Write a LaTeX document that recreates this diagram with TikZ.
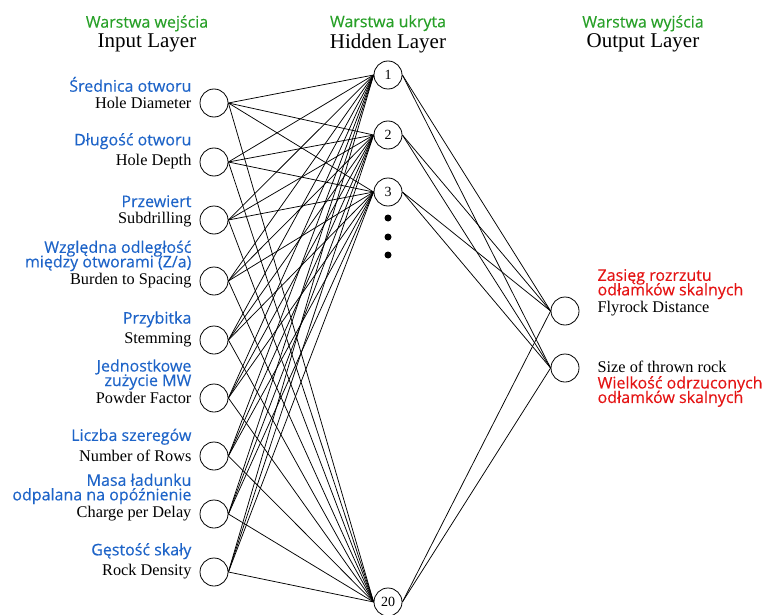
\documentclass[tikz,border=0pt]{standalone}
\usepackage{fontspec}
\setmainfont{Liberation Serif}
\newfontfamily\plfont[FakeBold=0.3]{Open Sans}
\usetikzlibrary{positioning}
\definecolor{plblue}{RGB}{30,100,200}
\definecolor{plgreen}{RGB}{40,160,40}
\definecolor{plred}{RGB}{228,20,20}
\newcommand\pltight{\lineskiplimit=-50pt\relax}
\tikzset{
  neuron/.style={draw,circle,minimum size=28pt,inner sep=0pt,line width=0.8pt,font=\fontsize{14}{14}\selectfont},
  link/.style={line width=0.75pt},
  enlabel/.style={font=\fontsize{16.3}{16}\selectfont,inner sep=0pt},
  pllabel/.style={font={\plfont\fontsize{16}{14.5}\selectfont\pltight},text=plblue,align=right,inner sep=0pt},
  outlabel/.style={font={\plfont\fontsize{16}{14.5}\selectfont\pltight},text=plred,align=left,inner sep=0pt},
  head/.style={font=\fontsize{21}{21}\selectfont,inner sep=0pt},
  headpl/.style={font=\plfont\fontsize{16}{16}\selectfont,text=plgreen,inner sep=0pt},
  dot/.style={fill,circle,minimum size=7pt,inner sep=0pt}
}
\begin{document}
\begin{tikzpicture}[x=1pt,y=-1pt]
\useasboundingbox (0,0) rectangle (765,615);

% headers
\node[head] (hin)  at (147,43) {Input Layer};
\node[head] (hhid) at (388,43) {Hidden Layer};
\node[head] (hout) at (643,43) {Output Layer};
\node[headpl,above=2pt of hin]  {Warstwa wejścia};
\node[headpl,above=2pt of hhid] {Warstwa ukryta};
\node[headpl,above=2pt of hout] {Warstwa wyjścia};

% input layer
\node[neuron] (in1) at (214,103) {};
\node[neuron] (in2) at (214,162) {};
\node[neuron] (in3) at (214,220) {};
\node[neuron] (in4) at (214,281) {};
\node[neuron] (in5) at (214,340) {};
\node[neuron] (in6) at (214,398) {};
\node[neuron] (in7) at (214,456) {};
\node[neuron] (in8) at (214,514) {};
\node[neuron] (in9) at (214,572) {};

\node[enlabel,left=8pt of in1] (en1) {Hole Diameter};
\node[enlabel,left=8pt of in2] (en2) {Hole Depth};
\node[enlabel,left=8pt of in3] (en3) {Subdrilling};
\node[enlabel,left=8pt of in4] (en4) {Burden to Spacing};
\node[enlabel,left=8pt of in5] (en5) {Stemming};
\node[enlabel,left=8pt of in6] (en6) {Powder Factor};
\node[enlabel,left=8pt of in7] (en7) {Number of Rows};
\node[enlabel,left=8pt of in8] (en8) {Charge per Delay};
\node[enlabel,left=8pt of in9] (en9) {Rock Density};

\node[pllabel,above=5pt of en1.north east,anchor=south east] {Średnica otworu};
\node[pllabel,above=5pt of en2.north east,anchor=south east] {Długość otworu};
\node[pllabel,above=5pt of en3.north east,anchor=south east] {Przewiert};
\node[pllabel,above=2pt of en4.north east,anchor=south east] {Względna odległość\\między otworami (Z/a)};
\node[pllabel,above=5pt of en5.north east,anchor=south east] {Przybitka};
\node[pllabel,above=2pt of en6.north east,anchor=south east] {Jednostkowe\\zużycie MW};
\node[pllabel,above=5pt of en7.north east,anchor=south east] {Liczba szeregów};
\node[pllabel,above=2pt of en8.north east,anchor=south east] {Masa ładunku\\odpalana na opóźnienie};
\node[pllabel,above=5pt of en9.north east,anchor=south east] {Gęstość skały};

% hidden layer
\node[neuron] (h1)  at (388,75)  {1};
\node[neuron] (h2)  at (388,135) {2};
\node[neuron] (h3)  at (388,192) {3};
\node[neuron] (h20) at (388,602) {20};
\node[dot] (d1) at (388,218) {};
\node[dot] (d2) at (388,237) {};
\node[dot] (d3) at (388,255) {};

% output layer
\node[neuron] (out1) at (565,311) {};
\node[neuron] (out2) at (565,368) {};
\node[enlabel,right=18pt of out1,yshift=2pt] (eo1) {Flyrock Distance};
\node[enlabel,right=18pt of out2,yshift=1pt] (eo2) {Size of thrown rock};
\node[outlabel,above=2pt of eo1.north west,anchor=south west] {Zasięg rozrzutu\\odłamków skalnych};
\node[outlabel,below=3pt of eo2.south west,anchor=north west] {Wielkość odrzuconych\\odłamków skalnych};

% connections
\foreach \i in {1,...,9}
  \foreach \h in {1,2,3,20}
    \draw[link] (in\i.east) -- (h\h.west);
\foreach \h in {1,2,3,20}
  \foreach \o in {1,2}
    \draw[link] (h\h.east) -- (out\o.west);
\end{tikzpicture}
\end{document}
